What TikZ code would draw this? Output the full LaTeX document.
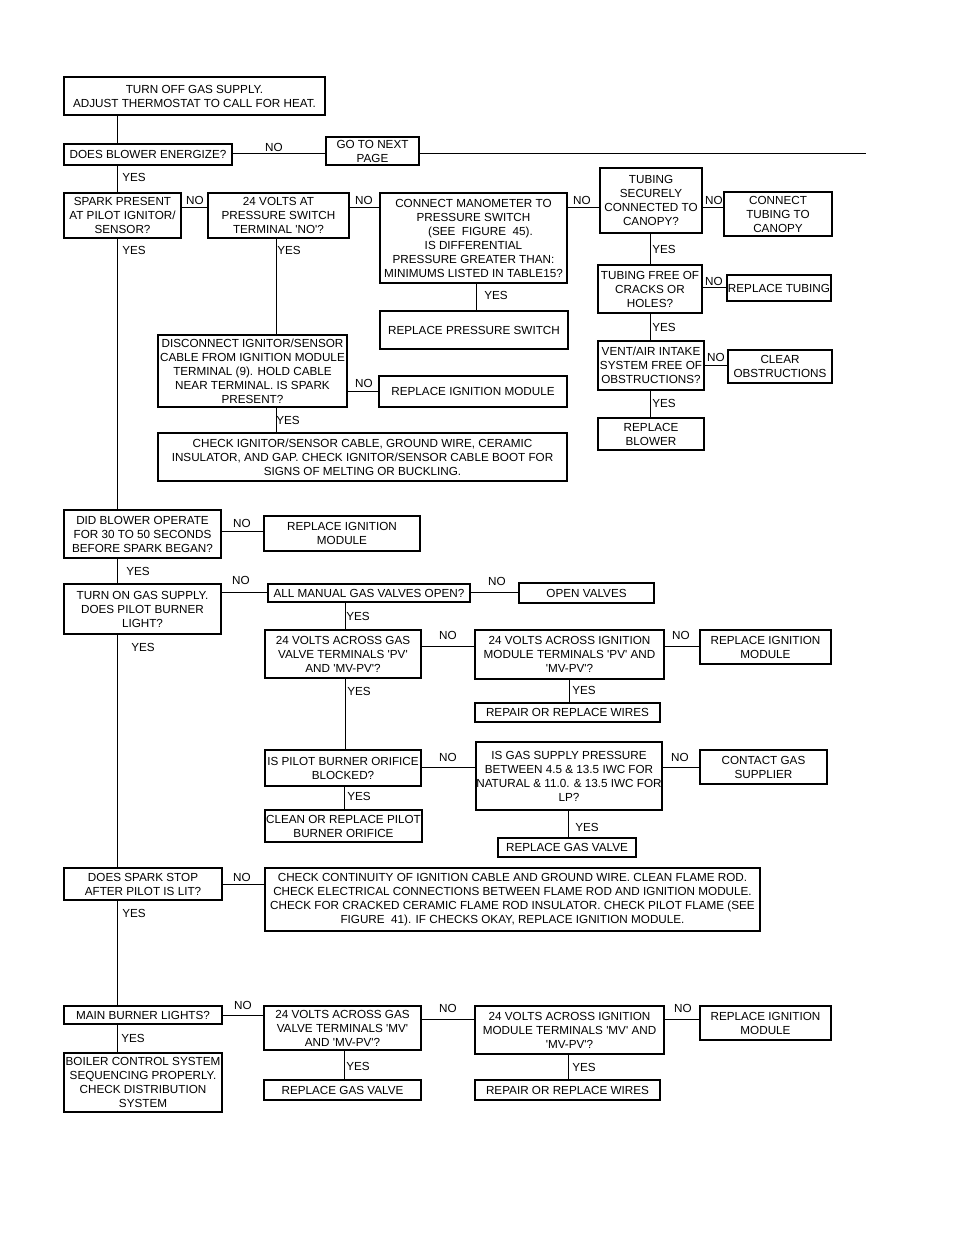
\documentclass[tikz,border=0pt]{standalone}
\usepackage{fontspec}
\setmainfont{Liberation Sans}[Ligatures=TeXOff]
\begin{document}
\begin{tikzpicture}[x=1pt,y=-1pt,
  box/.style={draw, line width=1.4pt, inner xsep=0.5pt, inner ysep=1pt, align=center, font=\fontsize{11.7}{14}\selectfont},
  lbl/.style={inner sep=0pt, font=\fontsize{11.7}{14}\selectfont},
  conn/.style={line width=1pt}]
\useasboundingbox (0,0) rectangle (954,1235);
\newcommand\bx[6]{\node[box, minimum width={#4-#2}, minimum height={#5-#3}] (#1) at ({(#2+#4)/2},{(#3+#5)/2}) {#6};}
% boxes
\bx{top}{64}{77}{325}{115}{TURN OFF GAS SUPPLY.\\ADJUST THERMOSTAT TO CALL FOR HEAT.}
\bx{blower}{64}{144}{232}{165}{DOES BLOWER ENERGIZE?}
\bx{next}{326}{137}{419}{165}{GO TO NEXT\\PAGE}
\bx{spark}{64}{193}{181}{238}{SPARK PRESENT\\AT PILOT IGNITOR/\\SENSOR?}
\bx{psw}{208}{193}{349}{238}{24 VOLTS AT\\PRESSURE SWITCH\\TERMINAL 'NO'?}
\bx{mano}{380}{193}{567}{283}{CONNECT MANOMETER TO\\PRESSURE SWITCH\hspace*{32pt}\\\hspace*{14pt}(SEE\ \ FIGURE\ \ 45).\\IS DIFFERENTIAL\\PRESSURE GREATER THAN:\\MINIMUMS LISTED IN TABLE15?}
\bx{tube}{600}{168}{702}{233}{TUBING\\SECURELY\\CONNECTED TO\\CANOPY?}
\bx{ctube}{724}{192}{832}{236}{CONNECT\\TUBING TO\\CANOPY}
\bx{tfree}{598}{265}{702}{313}{TUBING FREE OF\\CRACKS OR\\HOLES?}
\bx{rtube}{727}{275}{831}{301}{REPLACE TUBING}
\bx{vent}{598}{341}{704}{390}{VENT/AIR INTAKE\\SYSTEM FREE OF\\OBSTRUCTIONS?}
\bx{clear}{728}{350}{832}{383}{CLEAR\\OBSTRUCTIONS}
\bx{rblow}{598}{418}{704}{450}{REPLACE\\BLOWER}
\bx{rps}{380}{311}{568}{349}{REPLACE PRESSURE SWITCH}
\bx{disc}{158}{335}{347}{407}{DISCONNECT IGNITOR/SENSOR\\CABLE FROM IGNITION MODULE\\TERMINAL (9). HOLD CABLE\\NEAR TERMINAL. IS SPARK\\PRESENT?}
\bx{rim1}{379}{376}{567}{407}{REPLACE IGNITION MODULE}
\bx{chk1}{158}{433}{567}{481}{CHECK IGNITOR/SENSOR CABLE, GROUND WIRE, CERAMIC\\INSULATOR, AND GAP. CHECK IGNITOR/SENSOR CABLE BOOT FOR\\SIGNS OF MELTING OR BUCKLING.}
\bx{did}{64}{510}{221}{558}{DID BLOWER OPERATE\\FOR 30 TO 50 SECONDS\\BEFORE SPARK BEGAN?}
\bx{rim2}{264}{516}{420}{551}{REPLACE IGNITION\\MODULE}
\bx{turnon}{64}{584}{221}{634}{TURN ON GAS SUPPLY.\\DOES PILOT BURNER\\LIGHT?}
\bx{manual}{268}{584}{470}{602}{ALL MANUAL GAS VALVES OPEN?}
\bx{open}{519}{583}{654}{603}{OPEN VALVES}
\bx{gpv}{265}{630}{421}{678}{24 VOLTS ACROSS GAS\\VALVE TERMINALS 'PV'\\AND 'MV-PV'?}
\bx{ipv}{475}{630}{664}{679}{24 VOLTS ACROSS IGNITION\\MODULE TERMINALS 'PV' AND\\'MV-PV'?}
\bx{rim3}{700}{630}{831}{664}{REPLACE IGNITION\\MODULE}
\bx{rw1}{475}{703}{660}{722}{REPAIR OR REPLACE WIRES}
\bx{orif}{265}{750}{421}{786}{IS PILOT BURNER ORIFICE\\BLOCKED?}
\bx{gasp}{476}{742}{662}{810}{IS GAS SUPPLY PRESSURE\\BETWEEN 4.5 \& 13.5 IWC FOR\\NATURAL \& 11.0. \& 13.5 IWC FOR\\LP?}
\bx{contact}{700}{750}{827}{784}{CONTACT GAS\\SUPPLIER}
\bx{rgv1}{498}{838}{636}{857}{REPLACE GAS VALVE}
\bx{clean}{265}{810}{422}{842}{CLEAN OR REPLACE PILOT\\BURNER ORIFICE}
\bx{stop}{64}{868}{222}{900}{DOES SPARK STOP\\AFTER PILOT IS LIT?}
\bx{cont}{265}{868}{760}{931}{CHECK CONTINUITY OF IGNITION CABLE AND GROUND WIRE. CLEAN FLAME ROD.\\CHECK ELECTRICAL CONNECTIONS BETWEEN FLAME ROD AND IGNITION MODULE.\\CHECK FOR CRACKED CERAMIC FLAME ROD INSULATOR. CHECK PILOT FLAME (SEE\\FIGURE\ \ 41). IF CHECKS OKAY, REPLACE IGNITION MODULE.}
\bx{main}{64}{1006}{222}{1024}{MAIN BURNER LIGHTS?}
\bx{gmv}{264}{1006}{421}{1050}{24 VOLTS ACROSS GAS\\VALVE TERMINALS 'MV'\\AND 'MV-PV'?}
\bx{imv}{475}{1006}{664}{1054}{24 VOLTS ACROSS IGNITION\\MODULE TERMINALS 'MV' AND\\'MV-PV'?}
\bx{rim4}{700}{1006}{831}{1040}{REPLACE IGNITION\\MODULE}
\bx{rgv2}{264}{1080}{421}{1100}{REPLACE GAS VALVE}
\bx{rw2}{475}{1080}{660}{1100}{REPAIR OR REPLACE WIRES}
\bx{boiler}{64}{1053}{222}{1112}{BOILER CONTROL SYSTEM\\SEQUENCING PROPERLY.\\CHECK DISTRIBUTION\\SYSTEM}
\coordinate (rend) at (866,153);
% trunk
\draw[conn] (top.south -| 117,0) -- (blower.north -| 117,0);
\draw[conn] (blower.south -| 117,0) -- (spark.north -| 117,0);
\draw[conn] (spark.south -| 117,0) -- (did.north -| 117,0);
\draw[conn] (did.south -| 117,0) -- (turnon.north -| 117,0);
\draw[conn] (turnon.south -| 117,0) -- (stop.north -| 117,0);
\draw[conn] (stop.south -| 117,0) -- (main.north -| 117,0);
\draw[conn] (main.south -| 117,0) -- (boiler.north -| 117,0);
% horizontal
\draw[conn] (blower.east |- 0,153) -- (next.west |- 0,153);
\draw[conn] (next.east |- 0,153) -- (rend);
\draw[conn] (spark.east |- 0,207) -- (psw.west |- 0,207);
\draw[conn] (psw.east |- 0,207) -- (mano.west |- 0,207);
\draw[conn] (mano.east |- 0,207) -- (tube.west |- 0,207);
\draw[conn] (tube.east |- 0,207) -- (ctube.west |- 0,207);
\draw[conn] (tube.south -| 650,0) -- (tfree.north -| 650,0);
\draw[conn] (tfree.east |- 0,287) -- (rtube.west |- 0,287);
\draw[conn] (tfree.south -| 650,0) -- (vent.north -| 650,0);
\draw[conn] (vent.east |- 0,365) -- (clear.west |- 0,365);
\draw[conn] (vent.south -| 650,0) -- (rblow.north -| 650,0);
\draw[conn] (mano.south -| 476,0) -- (rps.north -| 476,0);
\draw[conn] (psw.south -| 276,0) -- (disc.north -| 276,0);
\draw[conn] (disc.east |- 0,391) -- (rim1.west |- 0,391);
\draw[conn] (disc.south -| 276,0) -- (chk1.north -| 276,0);
\draw[conn] (did.east |- 0,531) -- (rim2.west |- 0,531);
\draw[conn] (turnon.east |- 0,592) -- (manual.west |- 0,592);
\draw[conn] (manual.east |- 0,592) -- (open.west |- 0,592);
\draw[conn] (manual.south -| 345,0) -- (gpv.north -| 345,0);
\draw[conn] (gpv.east |- 0,646) -- (ipv.west |- 0,646);
\draw[conn] (ipv.east |- 0,646) -- (rim3.west |- 0,646);
\draw[conn] (ipv.south -| 569,0) -- (rw1.north -| 569,0);
\draw[conn] (gpv.south -| 345,0) -- (orif.north -| 345,0);
\draw[conn] (orif.east |- 0,767) -- (gasp.west |- 0,767);
\draw[conn] (gasp.east |- 0,767) -- (contact.west |- 0,767);
\draw[conn] (gasp.south -| 568,0) -- (rgv1.north -| 568,0);
\draw[conn] (orif.south -| 344,0) -- (clean.north -| 344,0);
\draw[conn] (stop.east |- 0,884) -- (cont.west |- 0,884);
\draw[conn] (main.east |- 0,1015) -- (gmv.west |- 0,1015);
\draw[conn] (gmv.east |- 0,1019) -- (imv.west |- 0,1019);
\draw[conn] (imv.east |- 0,1019) -- (rim4.west |- 0,1019);
\draw[conn] (gmv.south -| 344,0) -- (rgv2.north -| 344,0);
\draw[conn] (imv.south -| 568,0) -- (rw2.north -| 568,0);
% labels
\node[lbl] (l1) at (274,147) {NO};
\node[lbl] (l2) at (134,177) {YES};
\node[lbl] (l3) at (195,200) {NO};
\node[lbl] (l4) at (364,200) {NO};
\node[lbl] (l5) at (582,200) {NO};
\node[lbl] (l6) at (714,200) {NO};
\node[lbl] (l7) at (664,249) {YES};
\node[lbl] (l8) at (714,281) {NO};
\node[lbl] (l9) at (664,327) {YES};
\node[lbl] (l10) at (716,357) {NO};
\node[lbl] (l11) at (664,403) {YES};
\node[lbl] (l12) at (496,295) {YES};
\node[lbl] (l13) at (134,250) {YES};
\node[lbl] (l14) at (289,250) {YES};
\node[lbl] (l15) at (364,383) {NO};
\node[lbl] (l16) at (288,420) {YES};
\node[lbl] (l17) at (242,523) {NO};
\node[lbl] (l18) at (138,571) {YES};
\node[lbl] (l19) at (241,580) {NO};
\node[lbl] (l20) at (497,581) {NO};
\node[lbl] (l21) at (358,616) {YES};
\node[lbl] (l22) at (143,647) {YES};
\node[lbl] (l23) at (448,635) {NO};
\node[lbl] (l24) at (681,635) {NO};
\node[lbl] (l25) at (584,690) {YES};
\node[lbl] (l26) at (359,691) {YES};
\node[lbl] (l27) at (448,757) {NO};
\node[lbl] (l28) at (680,757) {NO};
\node[lbl] (l29) at (587,827) {YES};
\node[lbl] (l30) at (359,796) {YES};
\node[lbl] (l31) at (242,877) {NO};
\node[lbl] (l32) at (134,913) {YES};
\node[lbl] (l33) at (243,1005) {NO};
\node[lbl] (l34) at (448,1008) {NO};
\node[lbl] (l35) at (683,1008) {NO};
\node[lbl] (l36) at (133,1038) {YES};
\node[lbl] (l37) at (358,1066) {YES};
\node[lbl] (l38) at (584,1067) {YES};
\end{tikzpicture}
\end{document}
